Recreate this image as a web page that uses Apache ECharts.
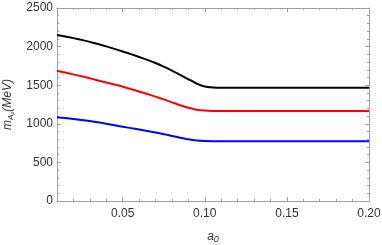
<!DOCTYPE html>
<html><head><meta charset="utf-8">
<script src="https://cdn.jsdelivr.net/npm/echarts@6/dist/echarts.min.js"></script>
<style>html,body{margin:0;padding:0;background:#fff}#c{width:382px;height:245px}</style>
</head><body><div id="c"></div>
<script>
const xs = [0.01, 0.015, 0.02, 0.025, 0.03, 0.035, 0.04, 0.045, 0.05, 0.055, 0.06, 0.065, 0.07, 0.075, 0.08, 0.085, 0.09, 0.095, 0.1, 0.105, 0.11, 0.13, 0.15, 0.175, 0.2];
const blackVals = [2150, 2131, 2110, 2087, 2061, 2033, 2003, 1971, 1937, 1902, 1866, 1828, 1787, 1741, 1690, 1635, 1577, 1521, 1482, 1471, 1468, 1468, 1468, 1468, 1468];
const redVals   = [1688, 1664, 1640, 1615, 1589, 1562, 1535, 1508, 1481, 1450, 1418, 1385, 1352, 1316, 1278, 1240, 1207, 1183, 1171, 1167, 1166, 1166, 1166, 1166, 1166];
const blueVals  = [1084, 1074, 1062, 1050, 1036, 1019, 1001, 982, 963, 944, 925, 906, 887, 866, 843, 820, 799, 784, 777, 775, 775, 775, 775, 775, 775];
const xMajor = [0.05, 0.10, 0.15, 0.20];
const yTicks = [0, 500, 1000, 1500, 2000, 2500];

const pair = v => xs.map((x, i) => [x, v[i]]);
const grey = '#a0a0a0';
const ff = 'Liberation Sans, Arial, sans-serif';
const labelStyle = {color: '#333', fontSize: 12, fontFamily: ff};
function xAx(pos, major, labels) {
  return {
    type: 'value', position: pos, min: 0.01, max: 0.2,
    interval: 0.01,
    axisLine: {show: true, lineStyle: {color: grey, width: 1}},
    axisTick: major ? {show: true, inside: true, length: 4, customValues: xMajor, lineStyle: {color: grey}}
                    : {show: true, inside: true, length: 2, lineStyle: {color: grey}},
    axisLabel: labels ? Object.assign({show: true, customValues: xMajor, margin: 7, formatter: v => v.toFixed(2)}, labelStyle) : {show: false},
    splitLine: {show: false}
  };
}
const xAxes = [xAx('bottom', false, false), xAx('bottom', true, true), xAx('top', false, false), xAx('top', true, false)];
xAxes[1].name = '{i|a}{s|0}';
xAxes[1].nameLocation = 'middle';
xAxes[1].nameGap = 29;
xAxes[1].nameTextStyle = {rich: {
  i: {fontStyle: 'italic', fontSize: 12, color: '#333', fontFamily: ff},
  s: {fontStyle: 'italic', fontSize: 9, color: '#333', padding: [5, 0, 0, 0], fontFamily: ff}
}};
function yAx(pos, labels) {
  return {
    type: 'value', position: pos, min: yTicks[0], max: yTicks[yTicks.length - 1], interval: 500,
    axisLine: {show: true, lineStyle: {color: grey, width: 1}},
    axisTick: {show: true, inside: true, length: 4, lineStyle: {color: grey}},
    minorTick: {show: true, splitNumber: 5, length: 2, lineStyle: {color: grey}},
    axisLabel: labels ? Object.assign({show: true, margin: 4, formatter: v => String(v)}, labelStyle) : {show: false},
    splitLine: {show: false}, minorSplitLine: {show: false}
  };
}
const yAxes = [yAx('left', true), yAx('right', false)];
yAxes[0].name = '{i|m}{s|A}{ss|ρ}{n|(MeV)}';
yAxes[0].nameLocation = 'middle';
yAxes[0].nameRotate = 90;
yAxes[0].nameGap = 42;
yAxes[0].nameTextStyle = {rich: {
  i: {fontStyle: 'italic', fontSize: 12, color: '#333', fontFamily: ff},
  s: {fontStyle: 'italic', fontSize: 8, color: '#333', padding: [5, 0, 0, 0], fontFamily: ff},
  ss: {fontStyle: 'italic', fontSize: 5, color: '#333', padding: [9, 0, 0, 0], fontFamily: ff},
  n: {fontStyle: 'italic', fontSize: 12, color: '#333', fontFamily: ff}
}};
const mk = (data, color) => ({type: 'line', data: pair(data), smooth: 0.2, showSymbol: false, xAxisIndex: 0, yAxisIndex: 0,
  lineStyle: {color: color, width: 2}, itemStyle: {color: color}, silent: true});
const chart = echarts.init(document.getElementById('c'), null, {renderer: 'canvas'});
chart.setOption({
  animation: false,
  grid: {left: 57, right: 13, top: 8, bottom: 44, containLabel: false, outerBoundsMode: 'none'},
  xAxis: xAxes,
  yAxis: yAxes,
  series: [mk(blackVals, '#000000'), mk(redVals, '#ff0000'), mk(blueVals, '#0000ff')]
});
</script></body></html>
